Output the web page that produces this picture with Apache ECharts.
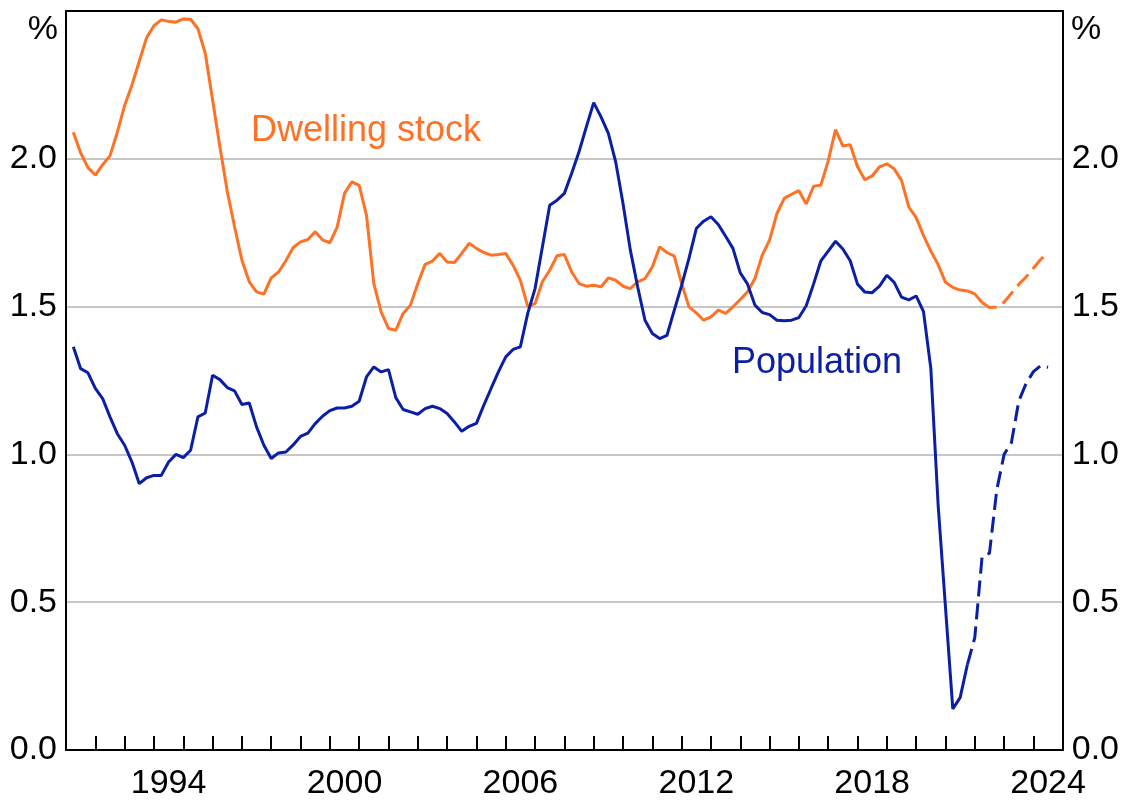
<!DOCTYPE html>
<html>
<head>
<meta charset="utf-8">
<script src="https://cdn.jsdelivr.net/npm/echarts@6/dist/echarts.min.js"></script>
<style>
  html, body { margin: 0; padding: 0; background: #fff; }
  #chart { width: 1122px; height: 801px; }
</style>
</head>
<body>
<div id="chart"></div>
<script>
// quarterly observations, first one is Mar quarter 1991
const firstQuarter = 1991.25
const dwellingStock = [
  2.09, 2.02, 1.97, 1.945, 1.98, 2.01, 2.09, 2.18, 2.25, 2.33,
  2.41, 2.45, 2.47, 2.465, 2.462, 2.473, 2.472, 2.44, 2.357, 2.20,
  2.04, 1.89, 1.77, 1.657, 1.584, 1.55, 1.542, 1.597, 1.617, 1.655,
  1.70, 1.719, 1.727, 1.753, 1.726, 1.716, 1.769, 1.883, 1.922, 1.91,
  1.809, 1.578, 1.482, 1.426, 1.42, 1.477, 1.505, 1.578, 1.643, 1.654,
  1.68, 1.651, 1.649, 1.68, 1.714, 1.697, 1.683, 1.674, 1.676, 1.68,
  1.64, 1.589, 1.501, 1.51, 1.584, 1.623, 1.672, 1.676, 1.617, 1.578,
  1.569, 1.572, 1.567, 1.597, 1.589, 1.569, 1.561, 1.584, 1.595, 1.634,
  1.702, 1.683, 1.671, 1.578, 1.499, 1.479, 1.454, 1.465, 1.488, 1.477,
  1.499, 1.524, 1.55, 1.595, 1.674, 1.725, 1.815, 1.866, 1.88, 1.892,
  1.847, 1.907, 1.911, 1.993, 2.099, 2.043, 2.048, 1.973, 1.929, 1.942,
  1.973, 1.983, 1.966, 1.927, 1.837, 1.801, 1.741, 1.688, 1.642, 1.582,
  1.565, 1.556, 1.553, 1.543, 1.514, 1.497, 1.498, 1.515, 1.545, 1.575,
  1.60, 1.63, 1.66, 1.68
]
const population = [
  1.364, 1.29, 1.276, 1.223, 1.189, 1.127, 1.07, 1.031, 0.974, 0.901,
  0.921, 0.929, 0.929, 0.974, 1.0, 0.989, 1.014, 1.127, 1.14, 1.268,
  1.253, 1.226, 1.215, 1.169, 1.174, 1.093, 1.031, 0.986, 1.005, 1.008,
  1.032, 1.061, 1.072, 1.104, 1.129, 1.148, 1.157, 1.157, 1.163, 1.18,
  1.262, 1.296, 1.279, 1.287, 1.192, 1.152, 1.144, 1.136, 1.155, 1.163,
  1.155, 1.138, 1.11, 1.078, 1.095, 1.105, 1.166, 1.223, 1.279, 1.33,
  1.355, 1.364, 1.477, 1.561, 1.702, 1.843, 1.86, 1.883, 1.951, 2.024,
  2.108, 2.19, 2.142, 2.086, 1.99, 1.849, 1.691, 1.567, 1.454, 1.409,
  1.392, 1.403, 1.488, 1.572, 1.663, 1.764, 1.789, 1.804, 1.778, 1.738,
  1.697, 1.614, 1.576, 1.505, 1.48, 1.473, 1.454, 1.452, 1.454, 1.463,
  1.503, 1.576, 1.655, 1.688, 1.721, 1.695, 1.655, 1.576, 1.549, 1.547,
  1.569, 1.606, 1.582, 1.532, 1.523, 1.536, 1.483, 1.291, 0.828, 0.483,
  0.139, 0.177, 0.29, 0.38, 0.655, 0.665, 0.88, 1.0, 1.04, 1.18,
  1.24, 1.28, 1.30, 1.295
]
// index where the dashed (forecast) part begins
const dwellingForecastFrom = 124
const populationForecastFrom = 122
const yearLabels = [1994, 2000, 2006, 2012, 2018, 2024]
const yTicks = [0, 0.5, 1, 1.5, 2, 2.5]

const orange = '#ff7124'
const blue = '#0a1fa6'
const fontFamily = 'Liberation Sans, Arial, sans-serif'

function toPairs(values, from, to) {
  let out = []
  for (let i = from; i <= to; i++) {
    out.push([firstQuarter + i * 0.25, values[i]])
  }
  return out
}

let chart = echarts.init(document.getElementById('chart'))

let yLabel = {
  fontSize: 34,
  fontFamily: fontFamily,
  color: '#000',
  margin: 9,
  formatter: function (v) {
    return yTicks.indexOf(v) >= 0 && v < 2.5 ? v.toFixed(1) : ''
  }
}

let option = {
  animation: false,
  grid: {
    left: 66, right: 59, top: 11, bottom: 51,
    show: false
  },
  xAxis: [
    {
      type: 'value', min: 1991, max: 2025, interval: 1,
      axisLine: { lineStyle: { color: '#000', width: 2 } },
      axisTick: { inside: true, length: 14, lineStyle: { color: '#000', width: 2 } },
      axisLabel: { show: false },
      splitLine: { show: false }
    },
    {
      // shifted by half a year so each label sits in the middle of its year
      type: 'value', position: 'bottom', min: 1990.5, max: 2024.5, interval: 0.5,
      axisLine: { show: false },
      axisTick: { show: false },
      splitLine: { show: false },
      axisLabel: {
        fontSize: 34, fontFamily: fontFamily, color: '#000', margin: 17,
        formatter: function (v) {
          return yearLabels.indexOf(v) >= 0 ? String(v) : ''
        }
      }
    },
    {
      // top frame line
      type: 'value', position: 'top', min: 1991, max: 2025, interval: 1,
      axisLine: { show: true, lineStyle: { color: '#000', width: 2 } },
      axisTick: { show: false },
      axisLabel: { show: false },
      splitLine: { show: false }
    }
  ],
  yAxis: [
    {
      type: 'value', min: 0, max: 2.5, interval: 0.5,
      axisLine: { show: true, lineStyle: { color: '#000', width: 2 } },
      axisTick: { show: false },
      axisLabel: yLabel,
      splitLine: { lineStyle: { color: '#b5b5b5', width: 1.5 } }
    },
    {
      type: 'value', position: 'right', min: 0, max: 2.5, interval: 0.5,
      axisLine: { show: true, lineStyle: { color: '#000', width: 2 } },
      axisTick: { show: false },
      axisLabel: yLabel,
      splitLine: { show: false }
    }
  ],
  graphic: [
    { type: 'text', x: 58, y: 30, style: { text: '%', font: '34px ' + fontFamily, fill: '#000', align: 'right', verticalAlign: 'middle', textAlign: 'right', textVerticalAlign: 'middle' } },
    { type: 'text', x: 1071, y: 30, style: { text: '%', font: '34px ' + fontFamily, fill: '#000', align: 'left', verticalAlign: 'middle', textAlign: 'left', textVerticalAlign: 'middle' } },
    { type: 'text', x: 251, y: 131, style: { text: 'Dwelling stock', font: '36px ' + fontFamily, fill: orange, align: 'left', verticalAlign: 'middle', textAlign: 'left', textVerticalAlign: 'middle' } },
    { type: 'text', x: 732, y: 363, style: { text: 'Population', font: '36px ' + fontFamily, fill: blue, align: 'left', verticalAlign: 'middle', textAlign: 'left', textVerticalAlign: 'middle' } }
  ],
  series: [
    {
      name: 'Dwelling stock', type: 'line', showSymbol: false,
      data: toPairs(dwellingStock, 0, dwellingForecastFrom),
      lineStyle: { color: orange, width: 3 }
    },
    {
      name: 'Dwelling stock forecast', type: 'line', showSymbol: false,
      data: toPairs(dwellingStock, dwellingForecastFrom, dwellingStock.length - 1),
      lineStyle: { color: orange, width: 3, type: [16, 7] }
    },
    {
      name: 'Population', type: 'line', showSymbol: false,
      data: toPairs(population, 0, populationForecastFrom),
      lineStyle: { color: blue, width: 3 }
    },
    {
      name: 'Population forecast', type: 'line', showSymbol: false,
      data: toPairs(population, populationForecastFrom, population.length - 1),
      lineStyle: { color: blue, width: 3, type: [16, 7] }
    }
  ]
}

chart.setOption(option)
</script>
</body>
</html>
